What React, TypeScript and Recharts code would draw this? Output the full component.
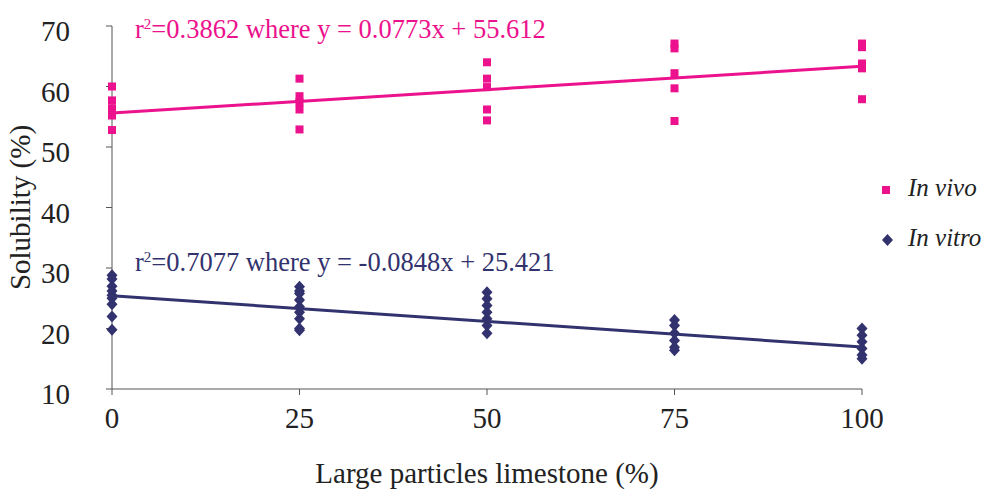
import React from "react";
import { Scatter, ScatterChart, XAxis, YAxis } from "recharts";

// replicate readings at each level of large-particle limestone
const levels = [0, 25, 50, 75, 100];
const inVivo = [
  [60.0, 57.7, 56.4, 55.6, 55.2, 52.8],
  [61.3, 58.4, 57.4, 56.2, 52.9],
  [64.0, 61.3, 59.9, 56.2, 54.4],
  [67.1, 66.3, 62.2, 59.7, 54.3],
  [67.1, 66.5, 63.8, 63.0, 57.9],
];
const inVitro = [
  [28.8, 28.2, 27.0, 26.2, 25.5, 25.0, 24.0, 22.0, 19.8],
  [26.9, 26.2, 25.8, 24.7, 23.6, 22.7, 21.6, 20.0, 19.7],
  [26.0, 24.9, 23.8, 22.7, 21.6, 20.5, 19.2],
  [21.4, 20.5, 19.2, 18.0, 16.9, 16.4],
  [20.0, 18.9, 17.8, 16.7, 15.6, 15.0],
];
const yTicks = [10, 20, 30, 40, 50, 60, 70];

const vivoFit = { slope: 0.0773, intercept: 55.612 };
const vitroFit = { slope: -0.0848, intercept: 25.421 };

const PINK = "#EC118C";
const NAVY = "#32326E";
const FONT = "'Liberation Serif', 'Times New Roman', serif";

const toPoints = (groups: number[][]) =>
  groups.flatMap((vals, i) => vals.map((y) => ({ x: levels[i], y })));

const fitLine = (f: { slope: number; intercept: number }) => [
  { x: levels[0], y: f.intercept + f.slope * levels[0] },
  { x: levels[levels.length - 1], y: f.intercept + f.slope * levels[levels.length - 1] },
];

const Square = (p: any) => (
  <rect x={p.cx - 4} y={p.cy - 4} width={8} height={8} fill={PINK} />
);
const Diamond = (p: any) => (
  <path
    d={`M${p.cx},${p.cy - 6}L${p.cx + 5.5},${p.cy}L${p.cx},${p.cy + 6}L${p.cx - 5.5},${p.cy}Z`}
    fill={NAVY}
  />
);
const Nothing = () => <g />;

const tickStyle = { fill: "#222", fontSize: 29, fontFamily: FONT };
const titleStyle = { fill: "#222", fontSize: 29, fontFamily: FONT };

const noteStyle: React.CSSProperties = {
  position: "absolute",
  left: 135,
  fontSize: 26.5,
  lineHeight: 1,
  whiteSpace: "nowrap",
};
const supStyle: React.CSSProperties = { fontSize: 15, lineHeight: 0, verticalAlign: 9 };

export default function App() {
  return (
    <div style={{ position: "absolute", left: 0, top: 0, width: 985, height: 489, background: "#fff", fontFamily: FONT }}>
      <ScatterChart width={985} height={489} margin={{ top: 26, right: 123, left: 0, bottom: 0 }}>
        <XAxis
          type="number"
          dataKey="x"
          domain={[0, 100]}
          ticks={levels}
          stroke="#555"
          tickSize={6}
          tickMargin={12}
          tick={tickStyle}
          height={100}
          label={{ value: "Large particles limestone (%)", position: "insideBottom", offset: 6, style: titleStyle }}
        />
        <YAxis
          type="number"
          dataKey="y"
          domain={[10, 70]}
          ticks={yTicks}
          stroke="#555"
          tickSize={6}
          tickMargin={36}
          tick={{ ...tickStyle, dy: 5 }}
          width={112}
          label={{ value: "Solubility (%)", angle: -90, position: "insideLeft", offset: 20, style: { ...titleStyle, textAnchor: "middle" } }}
        />
        <Scatter data={toPoints(inVivo)} shape={Square} isAnimationActive={false} />
        <Scatter data={toPoints(inVitro)} shape={Diamond} isAnimationActive={false} />
        <Scatter data={fitLine(vivoFit)} line={{ stroke: PINK, strokeWidth: 3 }} shape={Nothing} isAnimationActive={false} />
        <Scatter data={fitLine(vitroFit)} line={{ stroke: NAVY, strokeWidth: 3 }} shape={Nothing} isAnimationActive={false} />
      </ScatterChart>

      <div style={{ ...noteStyle, top: 16, color: PINK }}>
        r<sup style={supStyle}>2</sup>=0.3862 where y = 0.0773x + 55.612
      </div>
      <div style={{ ...noteStyle, top: 249, color: NAVY }}>
        r<sup style={supStyle}>2</sup>=0.7077 where y = -0.0848x + 25.421
      </div>

      <div style={{ position: "absolute", left: 882, top: 174, fontSize: 25, lineHeight: "28px", fontStyle: "italic", color: "#222", whiteSpace: "nowrap" }}>
        <span style={{ display: "inline-block", width: 8, height: 8, background: PINK, marginRight: 18, verticalAlign: "middle" }} />
        In vivo
      </div>
      <div style={{ position: "absolute", left: 882, top: 224, fontSize: 25, lineHeight: "28px", fontStyle: "italic", color: "#222", whiteSpace: "nowrap" }}>
        <svg width={11} height={12} style={{ marginRight: 15, verticalAlign: "middle" }}>
          <path d="M5.5,0L11,6L5.5,12L0,6Z" fill={NAVY} />
        </svg>
        In vitro
      </div>
    </div>
  );
}
